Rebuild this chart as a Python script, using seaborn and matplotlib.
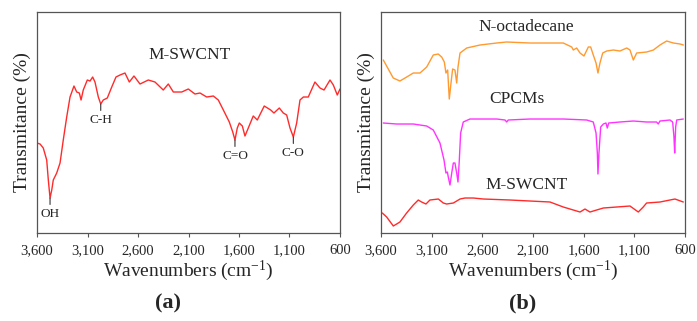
import numpy as np
import pandas as pd
import matplotlib
matplotlib.use("Agg")
import matplotlib.pyplot as plt
import seaborn as sns
from matplotlib.ticker import FuncFormatter

# %%
# (a) M-SWCNT spectrum, wavenumber (cm-1) vs transmittance (arbitrary units)
a_wn = [3600, 3570, 3538, 3504, 3488, 3471, 3454, 3439, 3405, 3372, 3340, 3306, 3273, 3234,
        3207, 3181, 3164, 3142, 3102, 3075, 3049, 3026, 2993, 2969, 2944, 2904, 2860, 2818,
        2778, 2729, 2686, 2640, 2580, 2498, 2432, 2350, 2300, 2250, 2167, 2102, 2036, 1986,
        1920, 1854, 1805, 1755, 1696, 1662, 1640, 1617, 1597, 1567, 1541, 1508, 1459, 1419,
        1350, 1286, 1254, 1201, 1161, 1128, 1095, 1062, 1029, 996, 963, 914, 848, 798, 758,
        699, 666, 627, 600]
a_tr = [90, 89, 85, 73, 53, 35, 43, 53, 60, 70, 93, 116, 136, 147,
        141, 140, 133, 143, 153, 152, 156, 151, 136, 129, 133, 135, 146, 156,
        158, 160, 151, 157, 149, 153, 151, 143, 149, 141, 141, 144, 139, 140,
        136, 137, 133, 123, 111, 101, 93, 105, 110, 107, 97, 105, 117, 113,
        127, 123, 120, 125, 120, 118, 105, 96, 110, 133, 136, 136, 151, 145, 143,
        153, 148, 138, 144]

peak_names = ["OH", "C-H", "C=O", "C-O"]
peak_wn = [3471, 2969, 1640, 1062]
peak_tr = [35, 129, 93, 96]

# (b) stacked spectra
oct_wn = [3577, 3479, 3413, 3346, 3281, 3215, 3149, 3084, 3035, 3001, 2975, 2959, 2942, 2926,
          2909, 2893, 2870, 2853, 2840, 2820, 2754, 2623, 2458, 2360, 2130, 1801, 1718, 1702,
          1669, 1636, 1597, 1554, 1531, 1505, 1478, 1459, 1439, 1412, 1373, 1307, 1242, 1175,
          1143, 1110, 1077, 978, 912, 847, 781, 715, 649, 616]
oct_tr = [173, 155, 152, 156, 160, 160, 166, 178, 179, 176, 171, 160, 163, 134,
          150, 164, 163, 150, 166, 180, 185, 188, 190, 191, 190, 190, 186, 183,
          185, 180, 177, 186, 186, 178, 170, 160, 170, 180, 182, 183, 182, 185,
          183, 173, 180, 181, 183, 188, 192, 190, 189, 188]

cpcm_wn = [3577, 3445, 3281, 3149, 3084, 3018, 2978, 2959, 2945, 2936, 2919, 2902, 2886, 2870,
           2853, 2840, 2827, 2814, 2788, 2722, 2623, 2458, 2376, 2360, 2344, 2130, 1801, 1570,
           1505, 1478, 1465, 1459, 1449, 1432, 1406, 1380, 1367, 1353, 1242, 1110, 978, 880,
           864, 847, 748, 722, 709, 702, 692, 682, 617]
cpcm_tr = [110, 109, 109, 107, 103, 90, 73, 60, 61, 56, 48, 60, 70, 70,
           60, 51, 73, 100, 111, 114, 114, 114, 113, 111, 113, 114, 114, 113,
           111, 100, 80, 59, 80, 106, 109, 110, 105, 110, 111, 112, 111, 111,
           109, 112, 113, 111, 96, 80, 106, 113, 114]

sw_wn = [3587, 3544, 3478, 3413, 3347, 3281, 3232, 3199, 3156, 3117, 3034, 2985, 2952, 2886,
         2820, 2771, 2689, 2590, 2327, 1932, 1801, 1636, 1587, 1538, 1406, 1275, 1143, 1061,
         1012, 979, 847, 699, 617]
sw_tr = [20, 16, 7, 11, 20, 28, 33, 31, 29, 33, 34, 30, 29, 30,
         34, 35, 35, 34, 33, 31, 26, 21, 24, 21, 25, 26, 27, 21,
         26, 30, 31, 34, 31]

b_names = ["N-octadecane", "CPCMs", "M-SWCNT"]
b_label_wn = [2162, 2261, 2162]
b_label_tr = [206, 134, 48]

xticks = [3600, 3100, 2600, 2100, 1600, 1100, 600]

# %%
sns.set_style("ticks")
plt.rcParams["font.family"] = ["Liberation Serif", "DejaVu Serif"]
plt.rcParams["mathtext.fontset"] = "custom"
plt.rcParams["mathtext.rm"] = "Liberation Serif"
plt.rcParams["mathtext.it"] = "Liberation Serif:italic"

fig = plt.figure(figsize=(6.97, 3.21), dpi=100)
ax_a = fig.add_axes([0.0531, 0.2741, 0.4347, 0.6885])
ax_b = fig.add_axes([0.5466, 0.2741, 0.4362, 0.6885])

red = "#ff2b2b"
sns.lineplot(x=a_wn, y=a_tr, ax=ax_a, color=red, lw=1.0, estimator=None)
sns.lineplot(x=oct_wn, y=oct_tr, ax=ax_b, color="#ff9a30", lw=1.0, estimator=None)
sns.lineplot(x=cpcm_wn, y=cpcm_tr, ax=ax_b, color="#ff33ff", lw=1.0, estimator=None)
sns.lineplot(x=sw_wn, y=sw_tr, ax=ax_b, color=red, lw=1.0, estimator=None)

ax_a.text(2085, 178, "M-SWCNT", ha="center", va="center", fontsize=12.5)
for name, wn, tr in zip(peak_names, peak_wn, peak_tr):
    ax_a.annotate(name, xy=(wn, tr), xytext=(0, -7), textcoords="offset points",
                  ha="center", va="top", fontsize=9.5,
                  arrowprops=dict(arrowstyle="-", color="#333333", lw=0.8,
                                  shrinkA=0, shrinkB=0))

for name, wn, tr in zip(b_names, b_label_wn, b_label_tr):
    ax_b.text(wn, tr, name, ha="center", va="center", fontsize=12.5)

fmt = FuncFormatter(lambda v, p: f"{int(v):,}")
for ax, tag in [(ax_a, "(a)"), (ax_b, "(b)")]:
    ax.set_xlim(3600, 600)
    ax.set_ylim(0, 221)
    ax.set_xticks(xticks)
    ax.xaxis.set_major_formatter(fmt)
    ax.set_yticks([])
    ax.tick_params(axis="x", direction="out", length=3, width=0.8, color="#555555",
                   labelsize=10.5, pad=5)
    for s in ax.spines.values():
        s.set_visible(True)
        s.set_color("#555555")
        s.set_linewidth(0.9)
    ax.set_xlabel(r"Wavenumbers (cm$^{-1}$)", fontsize=14, labelpad=1)
    ax.set_ylabel("Transmitance (%)", fontsize=14, labelpad=4)

fig.text(0.241, 0.056, "(a)", ha="center", va="center", fontsize=16, fontweight="bold")
fig.text(0.750, 0.056, "(b)", ha="center", va="center", fontsize=16, fontweight="bold")

fig.savefig("out.png", dpi=100)
